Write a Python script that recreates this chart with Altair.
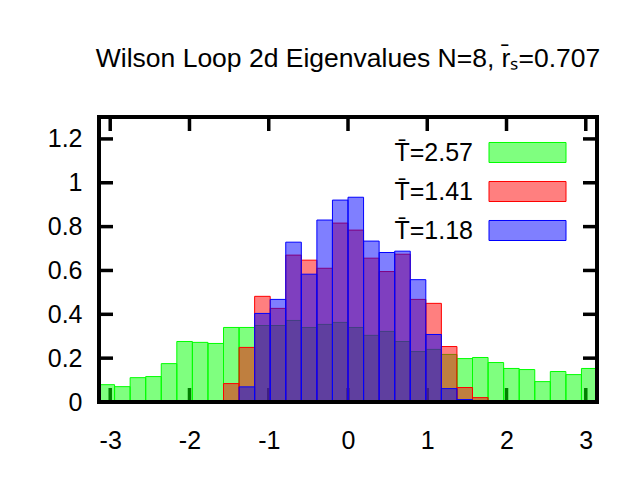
import math
import altair as alt
import pandas as pd

# ---- data (32 bins over [-pi, pi]) ----
n_bins = 32
green = [0.079, 0.070, 0.111, 0.116, 0.175, 0.276, 0.272, 0.267,
         0.340, 0.340, 0.349, 0.349, 0.372, 0.340, 0.354, 0.363,
         0.340, 0.304, 0.322, 0.276, 0.230, 0.240, 0.217, 0.198,
         0.203, 0.180, 0.153, 0.148, 0.093, 0.139, 0.125, 0.153]
red = [0, 0, 0, 0, 0, 0, 0, 0,
       0.084, 0.249, 0.482, 0.427, 0.670, 0.647, 0.610, 0.816,
       0.784, 0.656, 0.595, 0.674, 0.468, 0.450, 0.253, 0.066,
       0.020, 0, 0, 0, 0, 0, 0, 0]
blue = [0, 0, 0, 0, 0, 0, 0, 0,
        0, 0.069, 0.404, 0.468, 0.729, 0.583, 0.830, 0.921,
        0.934, 0.734, 0.682, 0.688, 0.558, 0.308, 0.061, 0.011,
        0, 0, 0, 0, 0, 0, 0, 0]
series_labels = ["T\u0304=2.57", "T\u0304=1.41", "T\u0304=1.18"]
series_colors = ["#00ff00", "#ff0000", "#0000ff"]
series_fills = ["rgba(0,255,0,0.5)", "rgba(255,0,0,0.5)", "rgba(0,0,255,0.5)"]
x_ticks = [-3, -2, -1, 0, 1, 2, 3]
y_ticks = [0, 0.2, 0.4, 0.6, 0.8, 1.0, 1.2]
title_text = "Wilson Loop 2d Eigenvalues N=8, r\u0304\u209b=0.707"

# ---- table ----
bw = 2 * math.pi / n_bins
rows = []
for lab, vals in zip(series_labels, [green, red, blue]):
    for i, v in enumerate(vals):
        if v > 0:
            rows.append({"series": lab,
                         "x0": -math.pi + i * bw,
                         "x1": -math.pi + (i + 1) * bw,
                         "y": v})
df = pd.DataFrame(rows)
xt = pd.DataFrame({"v": x_ticks})
yt = pd.DataFrame({"v": y_ticks})

W, H = 498, 285
TL = 14
FONT = "Liberation Sans"

xscale = alt.Scale(domain=[-math.pi, math.pi], nice=False, zero=False)
yscale = alt.Scale(domain=[0, 1.3], nice=False)
fscale = alt.Scale(domain=series_labels, range=series_fills)
sscale = alt.Scale(domain=series_labels, range=series_colors)

x_axis = alt.Axis(values=x_ticks, ticks=False, tickSize=0, domain=False,
                  grid=False, title=None, labelFontSize=25, labelFont=FONT,
                  labelColor="black", labelPadding=26,
                  labelExpr="replace(datum.label, '\u2212', '-')")
y_axis = alt.Axis(values=y_ticks, format="~g", ticks=False, tickSize=0,
                  domain=False, grid=False, title=None, labelFontSize=25,
                  labelFont=FONT, labelColor="black", labelPadding=17)

legend = alt.Legend(
    title=None, orient="none", legendX=415, legendY=22, padding=0,
    symbolType="M-3,-0.78H3V0.78H-3Z", symbolSize=(77 / 3) ** 2,
    symbolStrokeWidth=1, labelFontSize=25, labelFont=FONT,
    labelColor="black", labelAlign="right", labelOffset={"expr": "-68"},
    rowPadding=12, labelLimit=0,
)

tick_style = dict(color="black", strokeWidth=3.5)
bottom_ticks = alt.Chart(xt).mark_rule(**tick_style).encode(
    x=alt.X("v:Q", scale=xscale, axis=x_axis),
    y=alt.value(H), y2=alt.value(H - TL))
top_ticks = alt.Chart(xt).mark_rule(**tick_style).encode(
    x=alt.X("v:Q", scale=xscale, axis=x_axis),
    y=alt.value(0), y2=alt.value(TL))
left_ticks = alt.Chart(yt).mark_rule(**tick_style).encode(
    y=alt.Y("v:Q", scale=yscale, axis=y_axis),
    x=alt.value(0), x2=alt.value(TL))
right_ticks = alt.Chart(yt).mark_rule(**tick_style).encode(
    y=alt.Y("v:Q", scale=yscale, axis=y_axis),
    x=alt.value(W), x2=alt.value(W - TL))

bars = alt.Chart(df).mark_rect(strokeWidth=1).encode(
    x=alt.X("x0:Q", scale=xscale, axis=x_axis),
    x2="x1:Q",
    y=alt.Y("y:Q", scale=yscale, axis=y_axis),
    y2=alt.datum(0),
    fill=alt.Fill("series:N", scale=fscale, legend=legend),
    stroke=alt.Stroke("series:N", scale=sscale, legend=legend),
)

# plot border drawn on top of the bars
frame = alt.Chart(xt).mark_rect(fill=None, stroke="black", strokeWidth=3.5).encode(
    x=alt.value(0), x2=alt.value(W), y=alt.value(0), y2=alt.value(H))

chart = alt.layer(bottom_ticks, top_ticks, left_ticks, right_ticks, bars, frame).properties(
    width=W, height=H,
    autosize=alt.AutoSizeParams(type="none"),
    padding={"left": 91, "top": 109, "right": 35, "bottom": 60},
    title=alt.TitleParams(text=title_text, fontSize=26.5, font=FONT,
                          fontWeight="normal", color="black", anchor="middle",
                          baseline="alphabetic", offset=22),
).configure(font=FONT).configure_view(stroke=None)

chart.save("out.html", embed_options={"renderer": "svg", "actions": False})
